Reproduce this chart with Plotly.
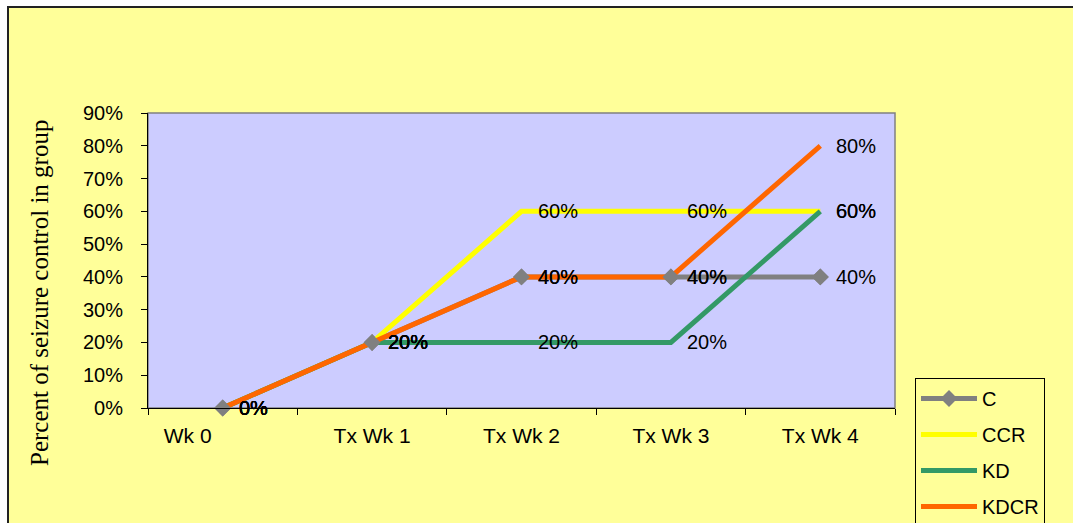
import plotly.graph_objects as go

# Weeks of observation
weeks = ["Wk 0", "Tx Wk 1", "Tx Wk 2", "Tx Wk 3", "Tx Wk 4"]
# axis labels as typed in the sheet (the first one carries trailing padding)
week_labels = ["Wk 0" + "\u00a0" * 12, "Tx Wk 1", "Tx Wk 2", "Tx Wk 3", "Tx Wk 4"]

# Percent of animals with seizure control, per group
c_vals = [0, 20, 40, 40, 40]
ccr_vals = [0, 20, 60, 60, 60]
kd_vals = [0, 20, 20, 20, 60]
kdcr_vals = [0, 20, 40, 40, 80]

y_ticks = [0, 10, 20, 30, 40, 50, 60, 70, 80, 90]

series = [
    ("C", c_vals, "#808080"),
    ("CCR", ccr_vals, "#FFFF00"),
    ("KD", kd_vals, "#339966"),
    ("KDCR", kdcr_vals, "#FF6600"),
]

SANS = "Liberation Sans, Arial, sans-serif"
SERIF = "Liberation Serif, Times New Roman, serif"
PAGE_BG = "#FFFF99"

# figure geometry (pixels)
W, H = 1073, 523
L, R, T, B = 148, 178, 113, 115
pw, ph = W - L - R, H - T - B


def px_x(px):
    return (px - L) / pw


def px_y(py):
    return (H - B - py) / ph


fig = go.Figure()

for name, vals, color in series:
    fig.add_trace(go.Scatter(
        x=weeks,
        y=[v / 100 for v in vals],
        name=name,
        legendgroup=name,
        mode="lines+markers" if name == "C" else "lines",
        line=dict(color=color, width=5),
        marker=dict(symbol="diamond", size=13, color="#808080") if name == "C" else None,
        cliponaxis=False,
    ))

# diamonds of the control group sit on top of all lines
fig.add_trace(go.Scatter(
    x=weeks,
    y=[v / 100 for v in c_vals],
    mode="markers",
    marker=dict(symbol="diamond", size=13, color="#808080"),
    legendgroup="C",
    showlegend=False,
    hoverinfo="skip",
    cliponaxis=False,
))

# value labels to the right of every point
for name, vals, color in series:
    for wk, v in zip(weeks, vals):
        fig.add_annotation(
            x=wk, y=v / 100, xref="x", yref="y",
            text=f"{v}%", showarrow=False,
            xanchor="left", yanchor="middle", xshift=14,
            font=dict(family=SANS, size=20, color="#000000"),
        )

# axis title
fig.add_annotation(
    x=px_x(39), y=px_y(293), xref="paper", yref="paper",
    text="Percent of seizure control in group", textangle=-90,
    showarrow=False, xanchor="center", yanchor="middle",
    font=dict(family=SERIF, size=25, color="#000000"),
)

# chart frame and plot-area border
fig.add_shape(
    type="rect", xref="paper", yref="paper", layer="below",
    x0=px_x(8), x1=px_x(W + 10), y0=px_y(H + 10), y1=px_y(7),
    fillcolor=PAGE_BG, line=dict(color="#222222", width=2),
)
fig.add_shape(
    type="rect", xref="paper", yref="paper", layer="below",
    x0=0, x1=1, y0=0, y1=1,
    fillcolor="#CCCCFF", line=dict(color="#808080", width=1.5),
)

fig.update_layout(
    width=W, height=H,
    margin=dict(l=L, r=R, t=T, b=B, pad=0, autoexpand=False),
    paper_bgcolor="#FFFFFF",
    plot_bgcolor="rgba(0,0,0,0)",
    showlegend=True,
    legend=dict(
        x=px_x(915), y=px_y(378), xanchor="left", yanchor="top",
        bgcolor=PAGE_BG, bordercolor="#000000", borderwidth=1,
        font=dict(family=SANS, size=20, color="#000000"),
        traceorder="grouped", tracegroupgap=7,
        itemwidth=56,
    ),
    xaxis=dict(
        type="category", range=[-0.5, 4.5],
        tickmode="array", tickvals=weeks, ticktext=week_labels,
        tickson="boundaries", ticks="outside", ticklen=6, tickcolor="#000000",
        showline=True, linecolor="#000000", linewidth=1,
        showgrid=False, zeroline=False,
        tickfont=dict(family=SANS, size=21, color="#000000"),
        ticklabelstandoff=9,
    ),
    yaxis=dict(
        range=[0, 0.9], tickvals=[t / 100 for t in y_ticks],
        ticktext=[f"{t}%" for t in y_ticks],
        ticks="outside", ticklen=6, tickcolor="#000000",
        showline=True, linecolor="#000000", linewidth=1,
        showgrid=False, zeroline=False,
        tickfont=dict(family=SANS, size=20, color="#000000"),
        ticklabelstandoff=14,
    ),
)

fig.write_html("out.html")
